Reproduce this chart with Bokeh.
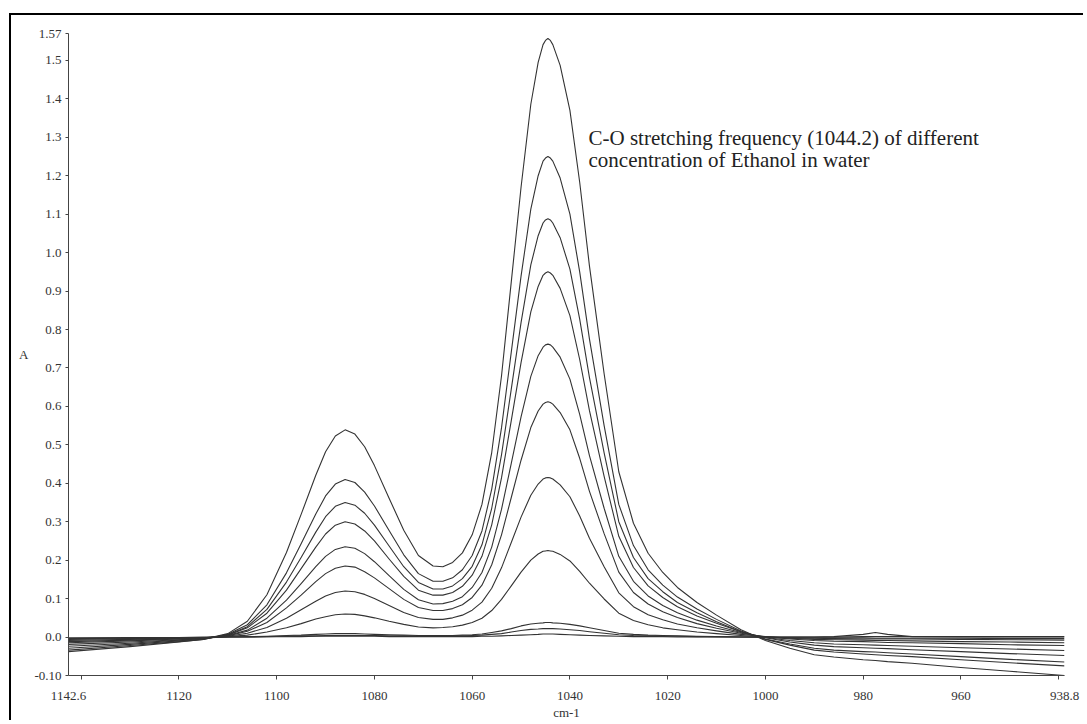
from bokeh.plotting import figure
from bokeh.models import FixedTicker, Range1d, Label
from bokeh.embed import file_html
from bokeh.resources import INLINE

# wavenumber grid (cm-1)
wavenumber = [1142.6, 1130, 1120, 1115, 1110, 1106, 1102, 1098, 1095, 1092, 1090, 1088, 1086, 1084,
              1082, 1080, 1077, 1074, 1071, 1068, 1066, 1064, 1062, 1060, 1058, 1056, 1054, 1052,
              1050, 1048, 1046.5, 1045.5, 1045.0, 1044.5, 1044.0, 1043.5, 1042, 1040, 1038, 1036,
              1033, 1030, 1027, 1024, 1021, 1018, 1014, 1010, 1005, 1000, 995, 990, 986, 980,
              977.5, 975, 970, 960, 950, 938.8]

# absorbance spectra, highest concentration first
spectrum_1 = [-0.038, -0.025, -0.013, -0.006, 0.009, 0.041, 0.110, 0.220, 0.319, 0.421, 0.482, 0.523,
              0.539, 0.528, 0.495, 0.446, 0.361, 0.278, 0.212, 0.185, 0.183, 0.194, 0.219, 0.266,
              0.345, 0.480, 0.679, 0.924, 1.170, 1.386, 1.495, 1.541, 1.552, 1.557, 1.552, 1.541,
              1.487, 1.370, 1.183, 0.965, 0.685, 0.430, 0.296, 0.218, 0.168, 0.129, 0.090, 0.057,
              0.019, -0.009, -0.029, -0.046, -0.052, -0.059, -0.061, -0.064, -0.068, -0.079,
              -0.089, -0.100]
spectrum_2 = [-0.034, -0.022, -0.012, -0.006, 0.007, 0.032, 0.084, 0.167, 0.243, 0.320, 0.367, 0.398,
              0.410, 0.402, 0.377, 0.341, 0.277, 0.214, 0.165, 0.145, 0.145, 0.154, 0.175, 0.212,
              0.276, 0.385, 0.544, 0.741, 0.939, 1.113, 1.200, 1.238, 1.246, 1.250, 1.246, 1.238,
              1.194, 1.100, 0.950, 0.775, 0.550, 0.345, 0.238, 0.175, 0.135, 0.104, 0.073, 0.046,
              0.016, -0.006, -0.021, -0.034, -0.039, -0.044, -0.046, -0.048, -0.051, -0.059,
              -0.067, -0.075]
spectrum_3 = [-0.029, -0.019, -0.010, -0.005, 0.006, 0.027, 0.072, 0.143, 0.207, 0.273, 0.313, 0.340,
              0.350, 0.343, 0.322, 0.291, 0.237, 0.183, 0.142, 0.125, 0.125, 0.133, 0.152, 0.184,
              0.240, 0.335, 0.474, 0.645, 0.818, 0.968, 1.044, 1.077, 1.085, 1.088, 1.085, 1.077,
              1.039, 0.957, 0.827, 0.675, 0.479, 0.300, 0.207, 0.152, 0.118, 0.090, 0.063, 0.040,
              0.014, -0.005, -0.018, -0.029, -0.034, -0.038, -0.039, -0.041, -0.044, -0.051,
              -0.058, -0.065]
spectrum_4 = [-0.024, -0.016, -0.008, -0.004, 0.005, 0.024, 0.062, 0.122, 0.178, 0.234, 0.268, 0.291,
              0.300, 0.294, 0.276, 0.250, 0.203, 0.158, 0.122, 0.109, 0.109, 0.116, 0.132, 0.161,
              0.210, 0.292, 0.414, 0.563, 0.714, 0.846, 0.912, 0.941, 0.947, 0.950, 0.947, 0.941,
              0.907, 0.836, 0.722, 0.589, 0.418, 0.262, 0.181, 0.133, 0.103, 0.079, 0.055, 0.036,
              0.014, -0.002, -0.013, -0.021, -0.025, -0.028, -0.029, -0.030, -0.033, -0.038,
              -0.043, -0.048]
spectrum_5 = [-0.019, -0.013, -0.007, -0.003, 0.004, 0.018, 0.049, 0.096, 0.139, 0.183, 0.210, 0.228,
              0.235, 0.231, 0.217, 0.196, 0.160, 0.124, 0.097, 0.086, 0.087, 0.093, 0.105, 0.129,
              0.168, 0.234, 0.332, 0.452, 0.573, 0.678, 0.732, 0.754, 0.760, 0.762, 0.760, 0.754,
              0.728, 0.671, 0.579, 0.472, 0.335, 0.210, 0.145, 0.107, 0.082, 0.063, 0.044, 0.029,
              0.012, -0.001, -0.009, -0.015, -0.018, -0.020, -0.021, -0.022, -0.024, -0.028,
              -0.031, -0.035]
spectrum_6 = [-0.015, -0.010, -0.005, -0.002, 0.003, 0.015, 0.038, 0.076, 0.109, 0.144, 0.165, 0.179,
              0.185, 0.182, 0.170, 0.154, 0.126, 0.098, 0.077, 0.069, 0.069, 0.074, 0.084, 0.103,
              0.135, 0.188, 0.266, 0.363, 0.460, 0.545, 0.588, 0.606, 0.610, 0.612, 0.610, 0.606,
              0.584, 0.539, 0.465, 0.379, 0.269, 0.169, 0.116, 0.086, 0.066, 0.051, 0.035, 0.023,
              0.010, 0.001, -0.005, -0.009, -0.011, -0.012, -0.013, -0.014, -0.015, -0.017,
              -0.020, -0.022]
spectrum_7 = [-0.012, -0.008, -0.004, -0.002, 0.002, 0.010, 0.025, 0.049, 0.071, 0.093, 0.107, 0.116,
              0.120, 0.118, 0.111, 0.100, 0.082, 0.064, 0.051, 0.046, 0.046, 0.050, 0.057, 0.070,
              0.091, 0.127, 0.180, 0.246, 0.312, 0.369, 0.398, 0.411, 0.414, 0.415, 0.414, 0.411,
              0.396, 0.365, 0.315, 0.257, 0.183, 0.115, 0.079, 0.058, 0.045, 0.034, 0.024, 0.016,
              0.007, 0.001, -0.003, -0.006, -0.007, -0.008, -0.009, -0.009, -0.010, -0.012,
              -0.013, -0.015]
spectrum_8 = [-0.009, -0.006, -0.003, -0.002, 0.001, 0.005, 0.013, 0.024, 0.035, 0.047, 0.053, 0.058,
              0.060, 0.059, 0.055, 0.050, 0.041, 0.033, 0.026, 0.024, 0.025, 0.027, 0.031, 0.038,
              0.049, 0.069, 0.098, 0.133, 0.169, 0.200, 0.216, 0.223, 0.224, 0.225, 0.224, 0.223,
              0.215, 0.198, 0.171, 0.140, 0.099, 0.062, 0.043, 0.032, 0.024, 0.019, 0.013, 0.009,
              0.004, 0.000, -0.002, -0.003, -0.004, -0.005, -0.005, -0.005, -0.005, -0.006,
              -0.007, -0.008]
spectrum_9 = [-0.006, -0.004, -0.003, -0.002, 0.000, 0.001, 0.002, 0.004, 0.005, 0.007, 0.008, 0.009,
              0.009, 0.009, 0.008, 0.007, 0.006, 0.005, 0.004, 0.004, 0.004, 0.004, 0.005, 0.006,
              0.008, 0.012, 0.016, 0.022, 0.029, 0.034, 0.036, 0.037, 0.038, 0.038, 0.038, 0.037,
              0.036, 0.033, 0.029, 0.024, 0.017, 0.010, 0.007, 0.005, 0.004, 0.003, 0.002, 0.001,
              0.000, -0.001, -0.002, -0.002, -0.002, -0.002, -0.003, -0.003, -0.003, -0.003,
              -0.004, -0.004]
spectrum_10 = [-0.004, -0.003, -0.002, -0.001, 0.000, 0.000, 0.001, 0.002, 0.003, 0.003, 0.004, 0.004,
               0.004, 0.004, 0.004, 0.004, 0.003, 0.003, 0.002, 0.002, 0.002, 0.003, 0.003, 0.004,
               0.005, 0.007, 0.009, 0.013, 0.017, 0.020, 0.021, 0.022, 0.022, 0.022, 0.022, 0.022,
               0.021, 0.019, 0.017, 0.014, 0.010, 0.006, 0.004, 0.003, 0.002, 0.002, 0.001, 0.001,
               0.000, 0.000, 0.000, 0.000, 0.001, 0.007, 0.012, 0.007, 0.001, 0.000, 0.000, 0.000]
spectrum_11 = [-0.002, -0.001, -0.001, 0.000, 0.000, 0.000, 0.001, 0.001, 0.001, 0.002, 0.002, 0.002,
               0.002, 0.002, 0.002, 0.002, 0.001, 0.001, 0.001, 0.001, 0.001, 0.001, 0.001, 0.001,
               0.002, 0.002, 0.003, 0.004, 0.005, 0.006, 0.007, 0.008, 0.008, 0.008, 0.008, 0.008,
               0.007, 0.006, 0.005, 0.004, 0.003, 0.002, 0.001, 0.001, 0.001, 0.000, 0.000, 0.000,
               0.000, 0.000, 0.000, 0.000, 0.000, 0.001, 0.001, 0.001, 0.001, 0.001, 0.001, 0.001]

spectra = [spectrum_1, spectrum_2, spectrum_3, spectrum_4, spectrum_5, spectrum_6,
           spectrum_7, spectrum_8, spectrum_9, spectrum_10, spectrum_11]

# axes
x_label_ticks = [1142.6, 1120.0, 1100.0, 1080.0, 1060.0, 1040.0, 1020.0, 1000.0, 980.0, 960.0, 938.8]
x_tick_labels = ["1142.6", "1120", "1100", "1080", "1060", "1040", "1020", "1000", "980", "960", "938.8"]
x_tick_marks = [1140.0, 1120.0, 1100.0, 1080.0, 1060.0, 1040.0, 1020.0, 1000.0, 980.0, 960.0, 940.0]
y_ticks = [-0.1, 0.0, 0.1, 0.2, 0.3, 0.4, 0.5, 0.6, 0.7, 0.8, 0.9, 1.0, 1.1, 1.2, 1.3, 1.4, 1.5, 1.57]
y_tick_labels = ["-0.10", "0.0", "0.1", "0.2", "0.3", "0.4", "0.5", "0.6", "0.7", "0.8", "0.9",
                 "1.0", "1.1", "1.2", "1.3", "1.4", "1.5", "1.57"]
x_start, x_end = 1142.6, 938.8
y_start, y_end = -0.10, 1.57

annotation_lines = ["C-O stretching frequency (1044.2) of different",
                    "concentration of Ethanol in water"]

FONT = "Liberation Serif"
INK = "#333333"

p = figure(width=1074, height=707, x_range=Range1d(x_start, x_end), y_range=Range1d(y_start, y_end),
           output_backend="svg", toolbar_location=None,
           min_border_left=57, min_border_right=21, min_border_top=18, min_border_bottom=45,
           x_axis_label="cm-1", y_axis_label="A")
p.styles = {"margin-left": "9px", "margin-top": "13px",
            "border-left": "2px solid #000", "border-top": "2px solid #000"}
p.outline_line_color = None
p.xgrid.visible = False
p.ygrid.visible = False
p.background_fill_color = "white"
p.border_fill_color = "white"

for s in spectra:
    p.line(wavenumber, s, line_color=INK, line_width=1.1, line_join="round")

# x axis
xa = p.xaxis[0]
xa.ticker = FixedTicker(ticks=x_label_ticks, minor_ticks=x_tick_marks)
xa.major_label_overrides = dict(zip(x_label_ticks, x_tick_labels))
xa.major_tick_line_color = None
xa.major_tick_out = 0
xa.major_tick_in = 0
xa.minor_tick_out = 4
xa.minor_tick_in = 0
xa.minor_tick_line_color = "#444"
xa.major_label_standoff = 12
xa.axis_line_color = "#444"
xa.major_label_text_font = FONT
xa.major_label_text_font_size = "13px"
xa.major_label_text_color = "#333"
xa.axis_label_text_font = FONT
xa.axis_label_text_font_size = "13px"
xa.axis_label_text_font_style = "normal"
xa.axis_label_text_color = "#333"
xa.axis_label_standoff = 2

# y axis
ya = p.yaxis[0]
ya.ticker = FixedTicker(ticks=y_ticks)
ya.major_label_overrides = dict(zip(y_ticks, y_tick_labels))
ya.major_tick_out = 3
ya.major_tick_in = 0
ya.major_tick_line_color = "#444"
ya.minor_tick_line_color = None
ya.major_label_standoff = 4
ya.axis_line_color = "#444"
ya.major_label_text_font = FONT
ya.major_label_text_font_size = "13px"
ya.major_label_text_color = "#333"
ya.axis_label_text_font = FONT
ya.axis_label_text_font_size = "13px"
ya.axis_label_text_font_style = "normal"
ya.axis_label_text_color = "#333"
ya.axis_label_orientation = "horizontal"
ya.axis_label_standoff = 3

# annotation text
text_x = 1036.2
text_y = [1.298, 1.240]
for line, ty in zip(annotation_lines, text_y):
    p.add_layout(Label(x=text_x, y=ty, text=line, text_font=FONT, text_font_size="21px",
                       text_color="#222222", text_baseline="alphabetic", text_align="left"))

open("out.html", "w").write(file_html(p, INLINE))
